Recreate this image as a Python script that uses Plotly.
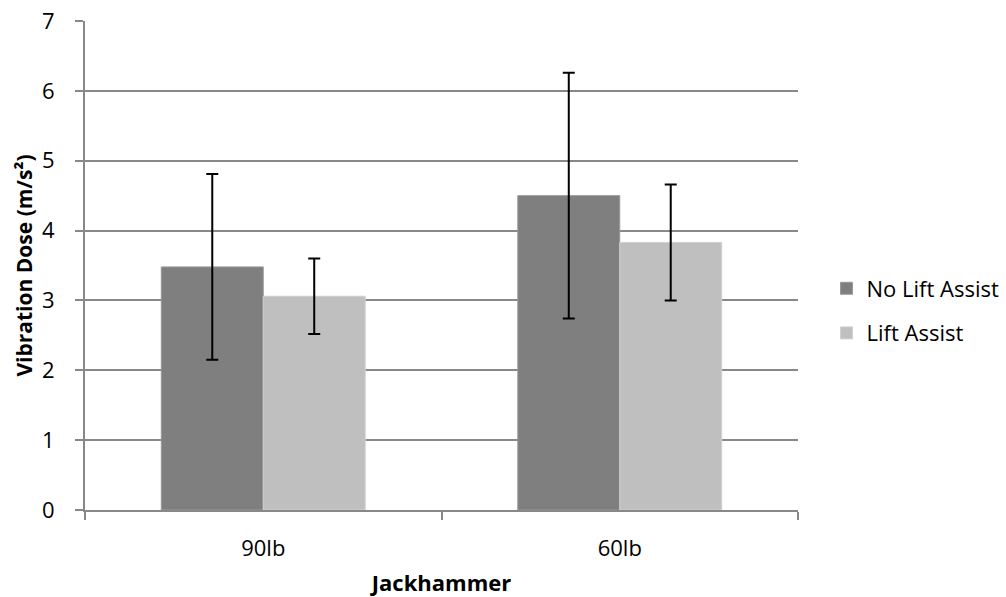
import plotly.graph_objects as go

# Jackhammer vibration dose, mean ± SD
categories = ["90lb", "60lb"]
no_lift_mean = [3.48, 4.50]
no_lift_err = [1.33, 1.76]
lift_mean = [3.06, 3.83]
lift_err = [0.54, 0.83]

FONT = "Open Sans"
GRID = "#888888"

fig = go.Figure()
fig.add_trace(go.Bar(
    name="No Lift Assist", x=categories, y=no_lift_mean,
    marker=dict(color="#7f7f7f", line=dict(color="#9a9a9a", width=1)),
    error_y=dict(type="data", array=no_lift_err, color="black", thickness=2, width=6),
    legendgroup="a",
))
fig.add_trace(go.Bar(
    name="Lift Assist", x=categories, y=lift_mean,
    marker=dict(color="#bfbfbf", line=dict(color="#d0d0d0", width=1)),
    error_y=dict(type="data", array=lift_err, color="black", thickness=2, width=6),
    legendgroup="b",
))

fig.update_layout(
    width=1006, height=597,
    margin=dict(l=85, r=208, t=21, b=87, autoexpand=False),
    paper_bgcolor="white", plot_bgcolor="white",
    barmode="group", bargap=0.428, bargroupgap=0,
    font=dict(family=FONT, size=22, color="black"),
    legend=dict(x=1.04, y=0.407, xanchor="left", yanchor="middle",
                traceorder="grouped", tracegroupgap=13,
                font=dict(family=FONT, size=22, color="black")),
    xaxis=dict(
        automargin=False,
        showgrid=False, showline=True, linecolor=GRID, linewidth=2,
        ticks="outside", tickson="boundaries", ticklen=8, tickwidth=2, tickcolor=GRID,
        ticklabelstandoff=18, tickfont=dict(size=22),
        title=dict(text="<b>Jackhammer</b>", font=dict(size=22), standoff=16),
    ),
    yaxis=dict(
        automargin=False,
        range=[0, 7], dtick=1, showgrid=True, gridcolor=GRID, gridwidth=2,
        showline=True, linecolor=GRID, linewidth=2, zeroline=False,
        ticks="outside", ticklen=8, tickwidth=2, tickcolor=GRID,
        ticklabelstandoff=16, tickfont=dict(size=22),
        title=dict(text="<b>Vibration Dose (m/s²)</b>", font=dict(size=21), standoff=4),
    ),
)

fig.write_html("out.html")
